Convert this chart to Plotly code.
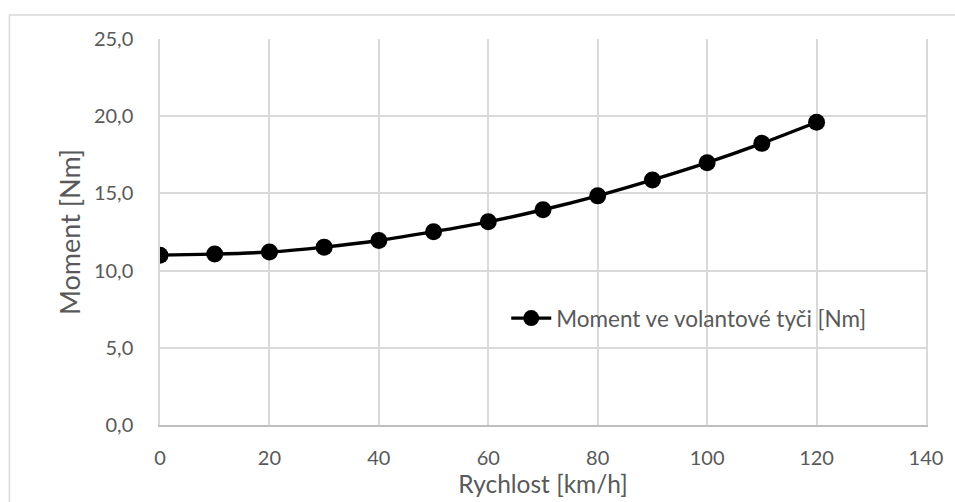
import plotly.graph_objects as go

# Steering column torque versus vehicle speed
rychlost = [0, 10, 20, 30, 40, 50, 60, 70, 80, 90, 100, 110, 120]
moment = [11.0, 11.07, 11.2, 11.52, 11.95, 12.52, 13.16, 13.94, 14.84, 15.87, 16.99, 18.24, 19.61]
nazev_serie = "Moment ve volantové tyči [Nm]"

FONT = "Lato"
GRAY_TEXT = "#595959"
GRID = "#d9d9d9"

fig = go.Figure()
fig.add_trace(go.Scatter(
    x=rychlost, y=moment, name=nazev_serie,
    mode="lines+markers",
    line=dict(color="black", width=3.4, shape="spline", smoothing=0.6),
    marker=dict(color="black", size=17),
))

fig.update_layout(
    width=955, height=502,
    margin=dict(l=160, r=22, t=39, b=75),
    paper_bgcolor="white", plot_bgcolor="white",
    separators=", ",
    font=dict(family=FONT, size=20, color=GRAY_TEXT),
    showlegend=True,
    legend=dict(
        x=0.452, y=0.276, xanchor="left", yanchor="middle",
        bgcolor="rgba(0,0,0,0)", font=dict(family=FONT, size=22.5, color=GRAY_TEXT),
        itemwidth=40,
    ),
    xaxis=dict(
        range=[0, 140], dtick=20, tick0=0,
        showgrid=True, gridcolor=GRID, gridwidth=1.5,
        showline=True, linecolor="#bfbfbf", linewidth=1.5,
        zeroline=False, ticks="", ticklabelstandoff=14,
        title=dict(text="Rychlost [km/h]", standoff=4,
                   font=dict(family=FONT, size=24.5, color=GRAY_TEXT)),
    ),
    yaxis=dict(
        range=[0, 25], dtick=5, tick0=0, tickformat=".1f",
        showgrid=True, gridcolor=GRID, gridwidth=1.5,
        showline=True, linecolor=GRID, linewidth=1.5, mirror=True,
        zeroline=False, ticks="", ticklabelstandoff=21,
        title=dict(text="Moment [Nm]", standoff=5,
                   font=dict(family=FONT, size=27, color=GRAY_TEXT)),
    ),
    shapes=[dict(
        type="rect", xref="paper", yref="paper",
        x0=-0.1966, x1=1.2, y0=-0.4, y1=1.062,
        line=dict(color=GRID, width=1.5), fillcolor="rgba(0,0,0,0)", layer="below",
    )],
)

fig.write_html("out.html")
